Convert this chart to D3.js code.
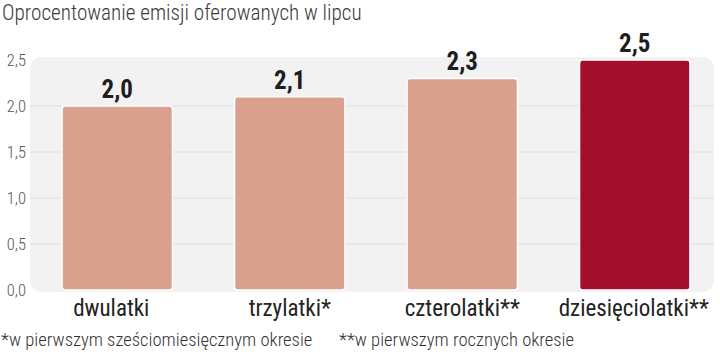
<!DOCTYPE html>
<html><head><meta charset="utf-8">
<script src="https://cdn.jsdelivr.net/npm/d3@7"></script>
<style>
html,body{margin:0;padding:0;background:#fff;}
svg{display:block;}
text{font-family:"Liberation Sans Narrow","Roboto Condensed","Liberation Sans",sans-serif;}
</style></head>
<body><svg id="c" width="720" height="354"></svg>
<script>
const title = "Oprocentowanie emisji oferowanych w lipcu";
const categories = ["dwulatki","trzylatki*","czterolatki**","dziesięciolatki**"];
const values = [2.0, 2.1, 2.3, 2.5];
const highlight = [false, false, false, true];
const yTicks = [0, 0.5, 1.0, 1.5, 2.0, 2.5];
const footnotes = ["*w pierwszym sześciomiesięcznym okresie", "**w pierwszym rocznych okresie"];

const fmt = v => d3.format(".1f")(v).replace(".", ",");
const svg = d3.select("#c");

const x = d3.scaleBand().domain(categories).range([31, 721]).paddingInner(0.36).paddingOuter(0.18);
const y = d3.scaleLinear().domain([0, 2.5]).range([290, 60]);

// panel background
svg.append("rect").attr("x", 30).attr("y", 57).attr("width", 684).attr("height", 235)
  .attr("rx", 12).attr("fill", "#f2f2f3");

// gridlines
svg.append("g").selectAll("line").data(yTicks.filter(d => d > 0 && d < 2.5)).join("line")
  .attr("x1", 30).attr("x2", 714).attr("y1", d => y(d)).attr("y2", d => y(d))
  .attr("stroke", "#dcdcdc").attr("stroke-width", 1);

// y axis labels
const yAxis = d3.axisLeft(y).tickValues(yTicks).tickFormat(fmt).tickSize(0).tickPadding(0);
const ga = svg.append("g").attr("transform", "translate(26,0)").call(yAxis);
ga.select(".domain").remove();
ga.selectAll("text").attr("font-size", 16.5).attr("fill", "#555").attr("font-weight", 300)
  .style("font-family", '"Liberation Sans Narrow","Roboto Condensed",sans-serif').attr("dy", "0.35em");

// bars
svg.append("g").selectAll("rect").data(categories).join("rect")
  .attr("x", d => x(d)).attr("width", x.bandwidth())
  .attr("y", (d, i) => y(values[i])).attr("height", (d, i) => y(0) - y(values[i]))
  .attr("rx", 3)
  .attr("fill", (d, i) => highlight[i] ? "#a20e2c" : "#d9a08d")
  .attr("stroke", "#ffffff").attr("stroke-width", 1.5);

// value labels
svg.append("g").selectAll("text").data(categories).join("text")
  .attr("x", d => x(d) + x.bandwidth() / 2).attr("y", (d, i) => y(values[i]) - 8)
  .attr("text-anchor", "middle").attr("font-size", 25).attr("font-weight", "bold")
  .attr("fill", "#1e1e1e").text((d, i) => fmt(values[i]));

// category labels
svg.append("g").selectAll("text").data(categories).join("text")
  .attr("x", (d, i) => x(d) + x.bandwidth() / 2 + [-6, 0, 0, -1][i]).attr("y", 316)
  .attr("text-anchor", "middle").attr("font-size", 23).attr("fill", "#222").text(d => d);

// title
svg.append("text").attr("x", 2).attr("y", 20).attr("font-size", 21.2).attr("font-weight", 300)
  .attr("fill", "#3a3a3a").text(title);

// footnotes
svg.append("text").attr("x", 1).attr("y", 346).attr("font-size", 18.6).attr("font-weight", 300)
  .attr("fill", "#333").text(footnotes[0]);
svg.append("text").attr("x", 339).attr("y", 346).attr("font-size", 18.6).attr("font-weight", 300)
  .attr("fill", "#333").text(footnotes[1]);
</script></body></html>
